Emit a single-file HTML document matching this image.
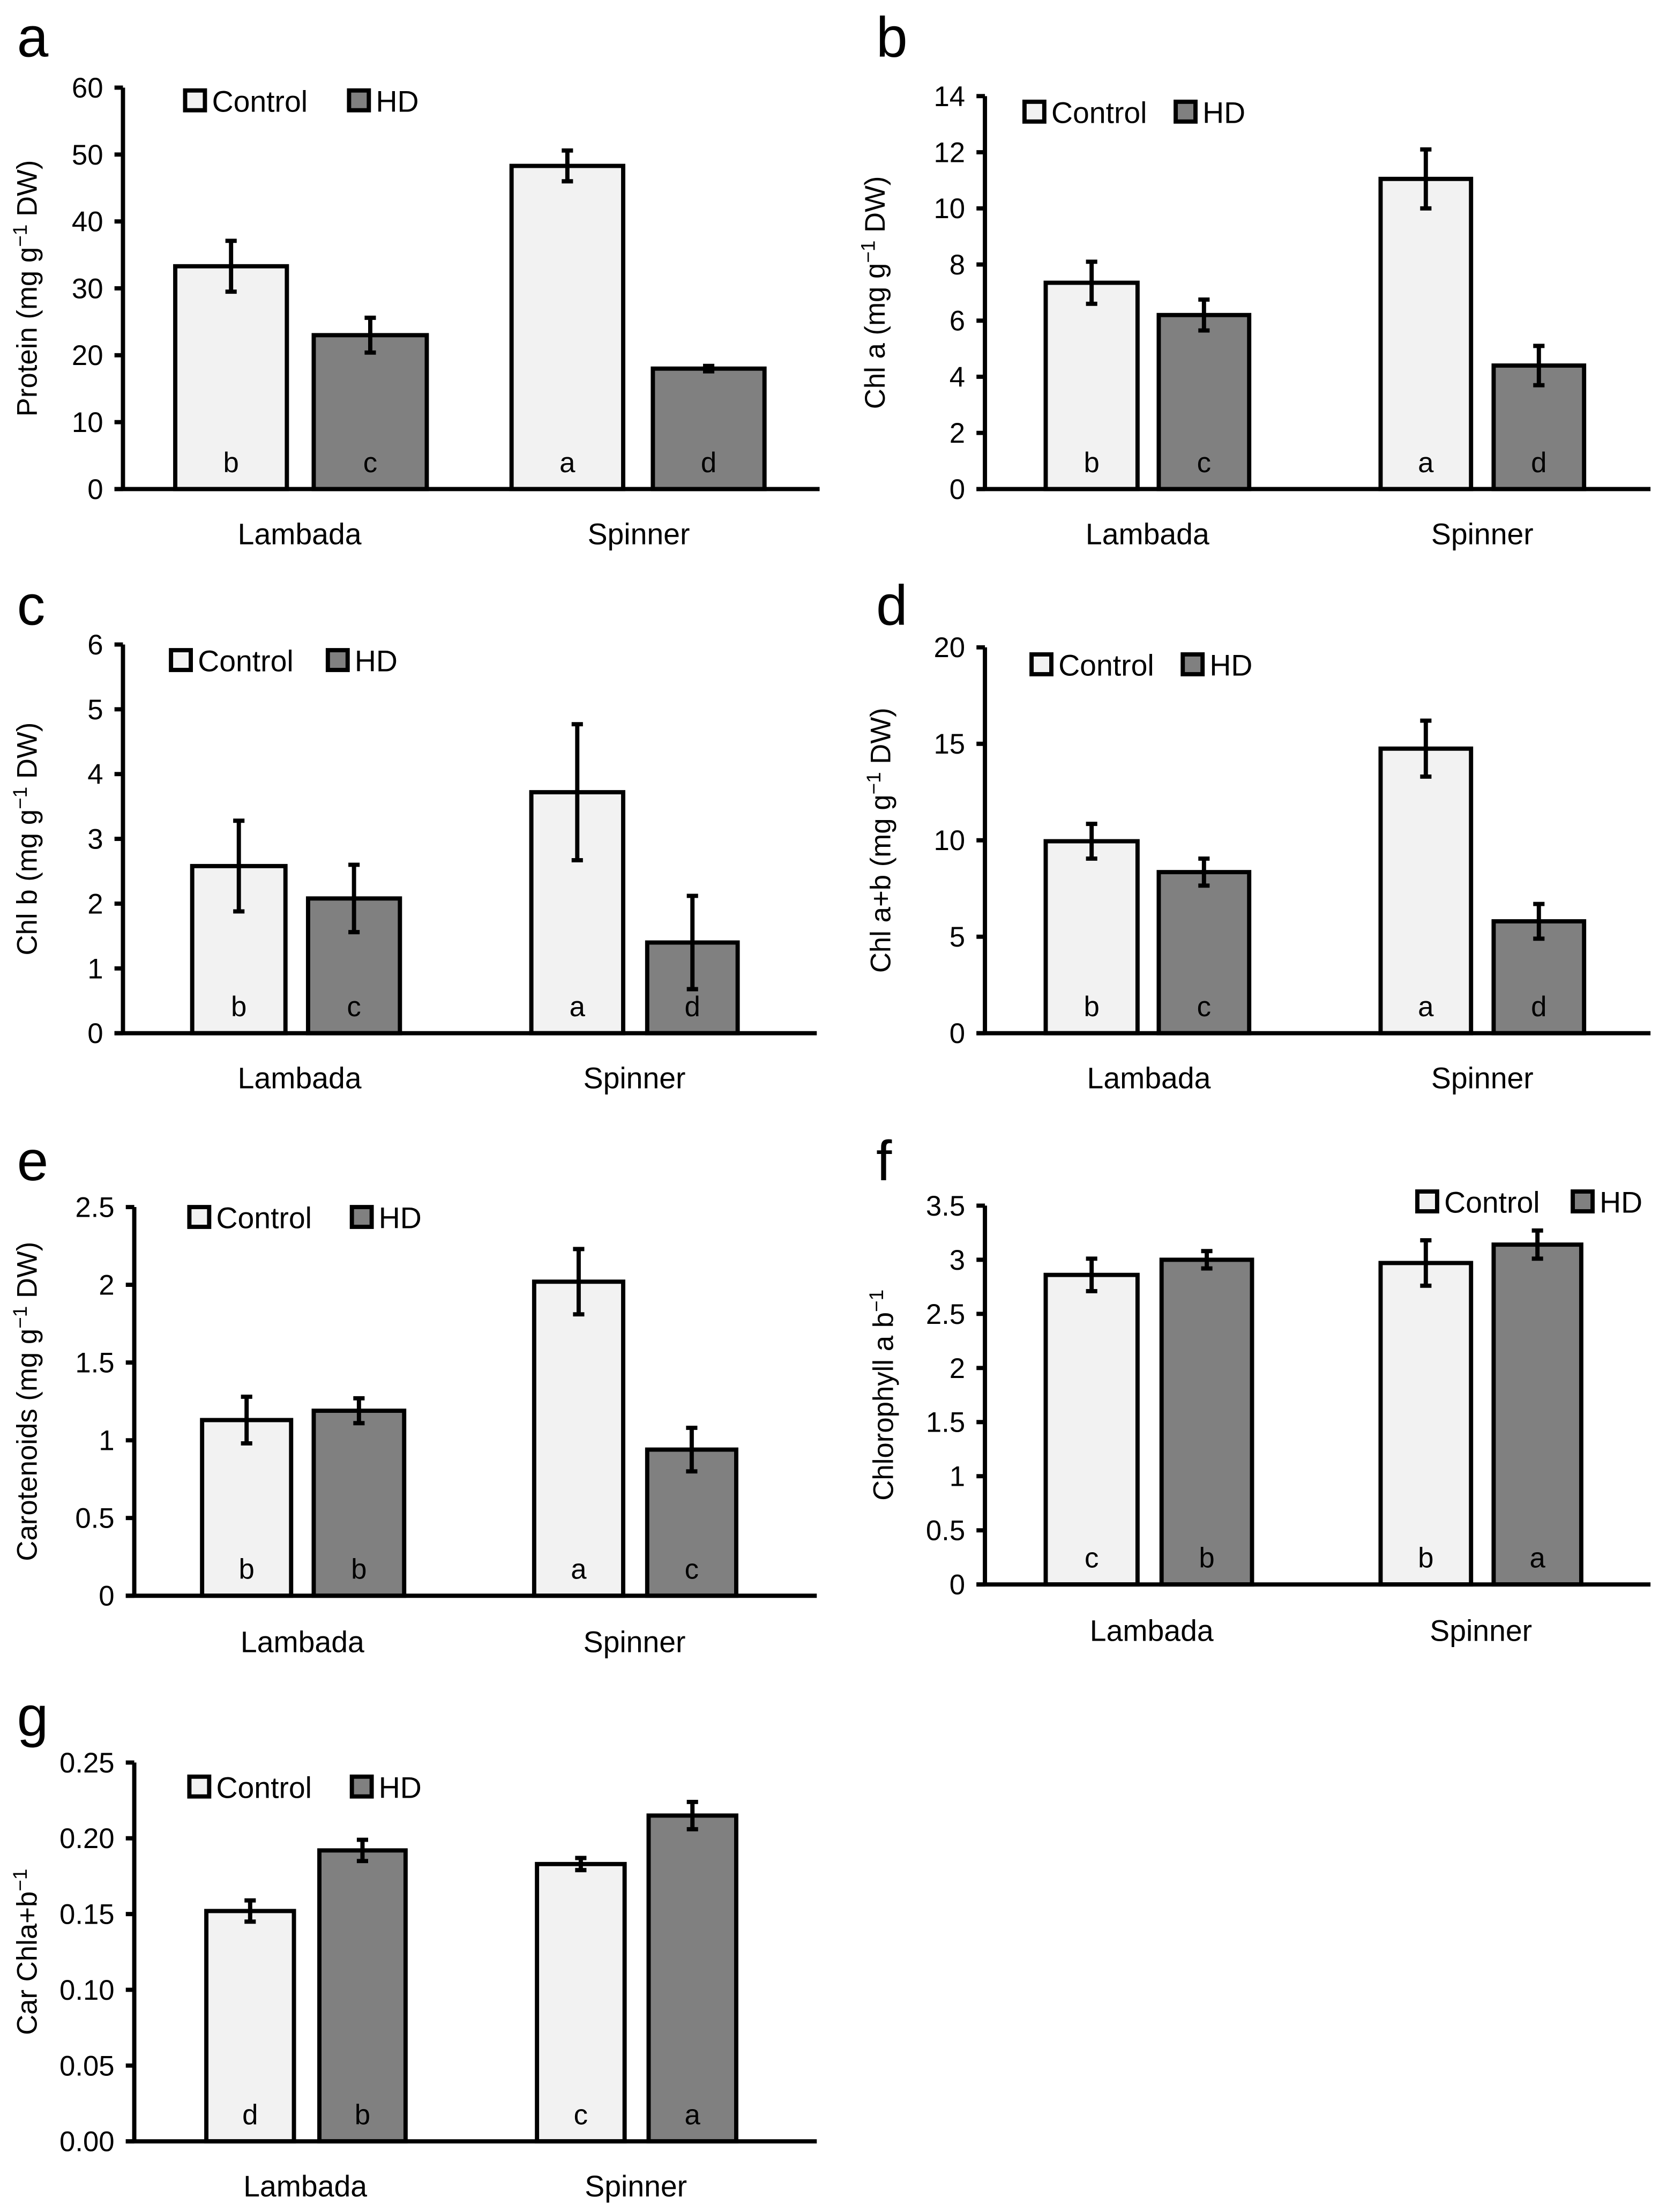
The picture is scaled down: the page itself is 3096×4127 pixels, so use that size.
<!DOCTYPE html>
<html><head><meta charset="utf-8">
<style>
html,body{margin:0;padding:0;background:#fff;}
svg{display:block;}
text{font-family:"Liberation Sans",sans-serif;fill:#000;}
</style></head>
<body>
<svg id="fig" width="3096" height="4127" viewBox="0 0 1174 1565" xmlns="http://www.w3.org/2000/svg"></svg>
<script>
const categories = ["Lambada","Spinner"];
// panel a
const aControl = [33.3, 48.3];
const aHD = [23.0, 18.0];
const aControlErr = [3.8, 2.3];
const aHDErr = [2.6, 0.4];
const aLetters = ["b","c","a","d"];
const aTicks = ["0","10","20","30","40","50","60"];
// panel b
const bControl = [7.35, 11.05];
const bHD = [6.2, 4.4];
const bControlErr = [0.75, 1.05];
const bHDErr = [0.55, 0.7];
const bLetters = ["b","c","a","d"];
const bTicks = ["0","2","4","6","8","10","12","14"];
// panel c
const cControl = [2.58, 3.72];
const cHD = [2.08, 1.4];
const cControlErr = [0.7, 1.05];
const cHDErr = [0.52, 0.72];
const cLetters = ["b","c","a","d"];
const cTicks = ["0","1","2","3","4","5","6"];
// panel d
const dControl = [9.95, 14.75];
const dHD = [8.35, 5.8];
const dControlErr = [0.9, 1.45];
const dHDErr = [0.7, 0.9];
const dLetters = ["b","c","a","d"];
const dTicks = ["0","5","10","15","20"];
// panel e
const eControl = [1.13, 2.02];
const eHD = [1.19, 0.94];
const eControlErr = [0.15, 0.21];
const eHDErr = [0.08, 0.14];
const eLetters = ["b","b","a","c"];
const eTicks = ["0","0.5","1","1.5","2","2.5"];
// panel f
const fControl = [2.86, 2.97];
const fHD = [3.0, 3.14];
const fControlErr = [0.15, 0.21];
const fHDErr = [0.08, 0.13];
const fLetters = ["c","b","b","a"];
const fTicks = ["0","0.5","1","1.5","2","2.5","3","3.5"];
// panel g
const gControl = [0.152, 0.183];
const gHD = [0.192, 0.215];
const gControlErr = [0.007, 0.004];
const gHDErr = [0.007, 0.009];
const gLetters = ["d","b","c","a"];
const gTicks = ["0.00","0.05","0.10","0.15","0.20","0.25"];

const NS = "http://www.w3.org/2000/svg";
const svg = document.getElementById("fig");
function mk(tag, attrs, parent, txt){
  const e = document.createElementNS(NS, tag);
  for (const k in attrs) e.setAttribute(k, attrs[k]);
  if (txt !== undefined) e.textContent = txt;
  (parent||svg).appendChild(e);
  return e;
}

function panel(P){
  const g = mk("g", {});
  
  
  const max = parseFloat(P.ticks[P.ticks.length-1]);
  const yS = v => P.y0 - (v/max)*(P.y0 - P.yTop);
  const pl = mk("text", {x:P.lx, y:P.ly, "font-size":40}, g, P.id);
  
  
  const vals = [P.c[0], P.h[0], P.c[1], P.h[1]];
  const errs = [P.ce[0], P.he[0], P.ce[1], P.he[1]];
  for (let i=0;i<4;i++){
    const [x1,x2] = P.bars[i];
    const yv = yS(vals[i]);
    const r = mk("rect", {x:x1, y:yv, width:x2-x1, height:P.y0-yv, fill: i%2===0?"#f2f2f2":"#808080", stroke:"#000", "stroke-width":3}, g);
    
    
    const cx = (x1+x2)/2;
    const eb = mk("path", {d:`M${cx},${yS(vals[i]+errs[i])}V${yS(vals[i]-errs[i])}M${cx-4},${yS(vals[i]+errs[i])}H${cx+4}M${cx-4},${yS(vals[i]-errs[i])}H${cx+4}`, stroke:"#000", "stroke-width":3, fill:"none"}, g);
    
    
    const lt = mk("text", {x:cx, y:P.y0-12, "font-size":20, "text-anchor":"middle"}, g, P.letters[i]);
    
    
  }
  const ax = mk("path", {d:`M${P.ax},${P.yTop}V${P.y0}M${P.ax-6},${P.y0}H${P.xEnd}`, stroke:"#000", "stroke-width":3, fill:"none"}, g);
  
  
  P.ticks.forEach(t=>{
    const y = yS(parseFloat(t));
    mk("path", {d:`M${P.ax-6},${y}H${P.ax}`, stroke:"#000", "stroke-width":3}, g);
    const tl = mk("text", {x:P.ax-14, y:y+7, "font-size":20, "text-anchor":"end"}, g, t);
    
    
  });
  categories.forEach((c,i)=>{
    const cl = mk("text", {x:P.cat[i], y:P.catY, "font-size":21, "text-anchor":"middle"}, g, c);
    
    
  });
  const yt = mk("text", {x:0, y:0, "font-size":20, "text-anchor":"middle", transform:`translate(${P.tx},${(P.y0+P.yTop)/2}) rotate(-90)`}, g);
  
  
  yt.innerHTML = P.title;
  const lg = mk("g", {}, g);
  
  
  const r1 = mk("rect", {x:P.leg[0], y:P.legY-14, width:14, height:14, fill:"#f2f2f2", stroke:"#000", "stroke-width":3}, lg);
  
  
  const t1 = mk("text", {x:P.leg[0]+19, y:P.legY+1, "font-size":21}, lg, "Control");
  
  
  const r2 = mk("rect", {x:P.leg[1], y:P.legY-14, width:14, height:14, fill:"#808080", stroke:"#000", "stroke-width":3}, lg);
  
  
  const t2 = mk("text", {x:P.leg[1]+19, y:P.legY+1, "font-size":21}, lg, "HD");
  
  
}

const unitTitle = n => `${n} (mg  g<tspan dy="-7" font-size="14">−1</tspan><tspan dy="7"> DW)</tspan>`;
const leftBars = [[124,203],[222,302],[362,441],[462,541]];
const rightBars = [[740,805],[820,884],[977,1041],[1057,1121]];

panel({id:"a", c:aControl, h:aHD, ce:aControlErr, he:aHDErr, letters:aLetters, ticks:aTicks,
  ax:87, y0:346, yTop:62, xEnd:580, bars:leftBars, cat:[212,452], catY:385, lx:12, ly:40, tx:26,
  title:unitTitle("Protein"), leg:[131,247], legY:78});
panel({id:"b", c:bControl, h:bHD, ce:bControlErr, he:bHDErr, letters:bLetters, ticks:bTicks,
  ax:697, y0:346, yTop:68, xEnd:1168, bars:rightBars, cat:[812,1049], catY:385, lx:620, ly:40, tx:626,
  title:unitTitle("Chl a"), leg:[725,832], legY:86});
panel({id:"c", c:cControl, h:cHD, ce:cControlErr, he:cHDErr, letters:cLetters, ticks:cTicks,
  ax:87, y0:731, yTop:456, xEnd:578, bars:[[136,202],[218,283],[376,441],[458,522]], cat:[212,449], catY:770, lx:12, ly:442, tx:26,
  title:unitTitle("Chl b"), leg:[121,232], legY:474});
panel({id:"d", c:dControl, h:dHD, ce:dControlErr, he:dHDErr, letters:dLetters, ticks:dTicks,
  ax:697, y0:731, yTop:458, xEnd:1168, bars:rightBars, cat:[813,1049], catY:770, lx:620, ly:442, tx:630,
  title:unitTitle("Chl a+b"), leg:[730,837], legY:477});
panel({id:"e", c:eControl, h:eHD, ce:eControlErr, he:eHDErr, letters:eLetters, ticks:eTicks,
  ax:95, y0:1129, yTop:854, xEnd:578, bars:[[143,206],[222,286],[378,441],[458,521]], cat:[214,449], catY:1169, lx:12, ly:835, tx:26,
  title:unitTitle("Carotenoids"), leg:[134,249], legY:868});
panel({id:"f", c:fControl, h:fHD, ce:fControlErr, he:fHDErr, letters:fLetters, ticks:fTicks,
  ax:697, y0:1121, yTop:853, xEnd:1168, bars:[[740,805],[822,886],[977,1041],[1057,1119]], cat:[815,1048], catY:1161, lx:620, ly:835, tx:632,
  title:`Chlorophyll a  b<tspan dy="-7" font-size="14">−1</tspan>`, leg:[1003,1113], legY:857});
panel({id:"g", c:gControl, h:gHD, ce:gControlErr, he:gHDErr, letters:gLetters, ticks:gTicks,
  ax:95, y0:1515, yTop:1247, xEnd:578, bars:[[146,208],[226,287],[380,442],[459,521]], cat:[216,450], catY:1554, lx:12, ly:1228, tx:26,
  title:`Car  Chla+b<tspan dy="-7" font-size="14">−1</tspan>`, leg:[134,249], legY:1271});
</script>
</body></html>
